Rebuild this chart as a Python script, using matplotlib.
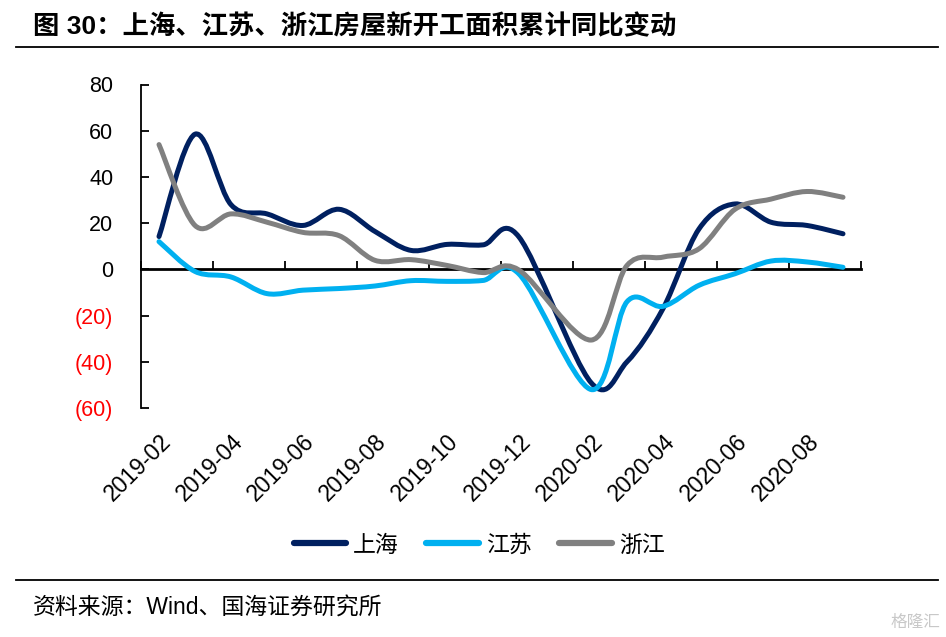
import numpy as np
import matplotlib
matplotlib.use("Agg")
import matplotlib.pyplot as plt
from matplotlib.path import Path
from matplotlib.patches import PathPatch
from matplotlib.lines import Line2D

plt.rcParams['font.family'] = ['Liberation Sans', 'Noto Sans CJK SC', 'DejaVu Sans']

# monthly data, 2020-01 not published (Jan-Feb combined)
months = ['2019-02', '2019-03', '2019-04', '2019-05', '2019-06', '2019-07',
          '2019-08', '2019-09', '2019-10', '2019-11', '2019-12',
          '2020-02', '2020-03', '2020-04', '2020-05', '2020-06', '2020-07',
          '2020-08', '2020-09']
shanghai = [14.2, 58.5, 28.0, 24.0, 19.0, 26.0, 16.4, 8.2, 10.8, 10.6, 14.0,
            -49.0, -40.0, -17.0, 17.5, 28.3, 20.4, 19.0, 15.4]
jiangsu = [12.0, -0.9, -3.3, -10.5, -9.0, -8.3, -7.2, -4.9, -5.2, -4.8, -2.0,
           -52.0, -14.0, -16.0, -6.9, -1.9, 3.6, 3.2, 0.9]
zhejiang = [54.0, 19.0, 24.0, 20.4, 16.0, 14.6, 3.9, 4.2, 1.7, -1.4, -0.3,
            -30.6, 1.7, 5.3, 8.9, 26.0, 30.4, 33.7, 31.2]
tick_labels = ['2019-02', '2019-04', '2019-06', '2019-08', '2019-10', '2019-12',
               '2020-02', '2020-04', '2020-06', '2020-08']
names = ['上海', '江苏', '浙江']
colors = ['#002060', '#00B0F0', '#808080']


def month_pos(m):
    y, mm = m.split('-')
    return (int(y) - 2019) * 12 + int(mm) - 2


def smooth_path(xs, ys):
    # excel-like smoothed line as cubic bezier segments
    pts = np.column_stack([xs, ys]).astype(float)
    n = len(pts)
    verts = [pts[0]]
    codes = [Path.MOVETO]
    for i in range(n - 1):
        p0 = pts[i - 1] if i > 0 else pts[i]
        p1 = pts[i]
        p2 = pts[i + 1]
        p3 = pts[i + 2] if i + 2 < n else pts[i + 1]
        verts += [p1 + (p2 - p0) / 6, p2 - (p3 - p1) / 6, p2]
        codes += [Path.CURVE4] * 3
    return Path(verts, codes)


xpos = [month_pos(m) for m in months]

fig = plt.figure(figsize=(9.46, 6.37), dpi=100)
ax = fig.add_axes([141 / 946, 1 - 408 / 637, 720 / 946, 323.5 / 637])

for vals, c in zip([shanghai, jiangsu, zhejiang], colors):
    ax.add_patch(PathPatch(smooth_path(xpos, vals), fill=False, edgecolor=c,
                           lw=3.6, capstyle='round', joinstyle='round', zorder=3))

ax.set_xlim(-0.5, 19.5)
ax.set_ylim(-60, 80)

for s in ['top', 'right', 'bottom']:
    ax.spines[s].set_visible(False)
ax.spines['left'].set_linewidth(1.3)

yt = np.arange(-60, 81, 20)
ax.set_yticks(yt)
ax.set_yticklabels([f'({abs(v)})' if v < 0 else str(v) for v in yt])
for lab, v in zip(ax.get_yticklabels(), yt):
    lab.set_color('red' if v < 0 else 'black')
ax.tick_params(axis='y', direction='in', length=6, width=1.3, pad=20, labelsize=15.5)

# labels at the bottom
ax.set_xticks([month_pos(t) for t in tick_labels])
ax.set_xticklabels(tick_labels, rotation=45, ha='right', va='top',
                   rotation_mode='anchor')
ax.tick_params(axis='x', length=0, pad=16, labelsize=16.5)

# axis line with tick marks at zero
sec = ax.secondary_xaxis(60 / 140)
sec.spines['bottom'].set_linewidth(2)
sec.set_xticks(np.arange(-0.5, 20, 2))
sec.set_xticklabels([])
sec.tick_params(direction='in', length=6, width=1.3)

fig.text(33 / 946, 1 - 27 / 637, '图 30：上海、江苏、浙江房屋新开工面积累计同比变动',
         fontsize=19, fontweight='bold', ha='left', va='center')
fig.add_artist(Line2D([16 / 946, 938 / 946], [1 - 47 / 637] * 2, color='black', lw=1.3))
fig.add_artist(Line2D([16 / 946, 938 / 946], [1 - 580 / 637] * 2, color='black', lw=1.3))
fig.text(33 / 946, 1 - 608 / 637, '资料来源：Wind、国海证券研究所', fontsize=16.5,
         ha='left', va='center')
fig.text(940 / 946, 1 - 622 / 637, '格隆汇', fontsize=12, color='#c8c8c8',
         ha='right', va='center')

handles = [Line2D([], [], color=c, lw=4.5, solid_capstyle='round') for c in colors]
fig.legend(handles, names, loc='center', bbox_to_anchor=(479 / 946, 1 - 545 / 637),
           ncol=3, frameon=False, fontsize=16.5, handlelength=2.3,
           handletextpad=0.3, columnspacing=1.2)

fig.savefig('out.png', dpi=100)
